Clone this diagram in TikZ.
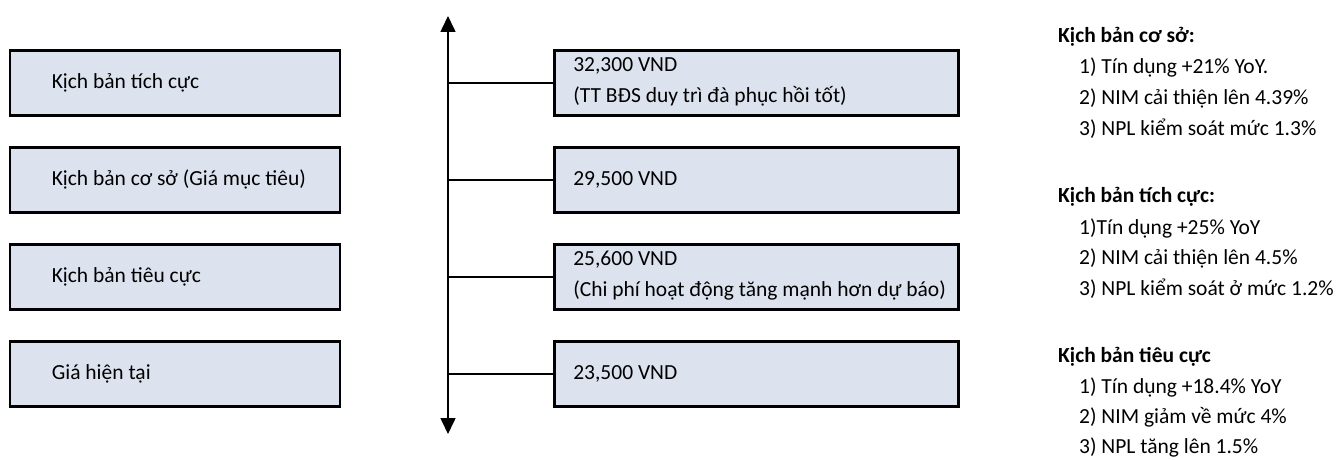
\documentclass[tikz,border=0pt]{standalone}
\usepackage{fontspec}
\setmainfont{Carlito}
\usetikzlibrary{arrows.meta}
\definecolor{boxfill}{RGB}{221,227,238}
\tikzset{
  lbox/.style={draw=black, line width=2.6pt, fill=boxfill, anchor=north west,
    minimum width=330pt, minimum height=65pt, text width=316pt, inner xsep=7pt,
    align=flush left, font=\fontsize{21.5}{31}\selectfont,
    execute at begin node={\leftskip=35pt\relax}},
  rbox/.style={draw=black, line width=2.6pt, fill=boxfill, anchor=north west,
    minimum width=404pt, minimum height=65pt, text width=380pt, inner xsep=12pt,
    align=flush left, font=\fontsize{21.5}{31}\selectfont,
    execute at begin node={\leftskip=7pt\relax}},
  twoline/.style={inner ysep=0pt, text height=19pt, text depth=41pt},
  axisline/.style={line width=1.6pt, {Triangle[width=15pt,length=16pt]}-{Triangle[width=15pt,length=16pt]}},
  branch/.style={line width=2.2pt},
  head/.style={anchor=base west, inner sep=0pt, font=\fontsize{21.5}{31}\selectfont\bfseries},
  itemline/.style={anchor=base west, inner sep=0pt, font=\fontsize{21.5}{31}\selectfont}
}
\begin{document}
\begin{tikzpicture}[x=1pt,y=-1pt]
\useasboundingbox (0,0) rectangle (1338,460);
% left boxes
\node[lbox] (l1) at (8.5,49) {Kịch bản tích cực};
\node[lbox] (l2) at (8.5,146) {Kịch bản cơ sở (Giá mục tiêu)};
\node[lbox] (l3) at (8.5,243) {Kịch bản tiêu cực};
\node[lbox] (l4) at (8.5,340) {Giá hiện tại};
% right boxes
\node[rbox,twoline] (r1) at (553,49) {32,300 VND\\(TT BĐS duy trì đà phục hồi tốt)};
\node[rbox] (r2) at (553,146) {29,500 VND};
\node[rbox,twoline] (r3) at (553,243) {25,600 VND\\(Chi phí hoạt động tăng mạnh hơn dự báo)};
\node[rbox] (r4) at (553,340) {23,500 VND};
% axis
\coordinate (top) at (448,16);
\coordinate (bot) at (448,434);
\draw[axisline] (bot) -- (top);
\foreach \i in {1,...,4}{
  \draw[branch] (r\i.west -| top) -- (r\i.west);
}
% right notes
\node[head] (h1) at (1058,42.5) {Kịch bản cơ sở:};
\node[itemline] (a1) at (1079,74) {1) Tín dụng +21\% YoY.};
\node[itemline] (a2) at (1079,104.5) {2) NIM cải thiện lên 4.39\%};
\node[itemline] (a3) at (1079,135) {3) NPL kiểm soát mức 1.3\%};
\node[head] (h2) at (1058,202.5) {Kịch bản tích cực:};
\node[itemline] (b1) at (1079,234) {1)Tín dụng +25\% YoY};
\node[itemline] (b2) at (1079,264.5) {2) NIM cải thiện lên 4.5\%};
\node[itemline] (b3) at (1079,295) {3) NPL kiểm soát ở mức 1.2\%};
\node[head] (h3) at (1058,362.5) {Kịch bản tiêu cực};
\node[itemline] (c1) at (1079,393.5) {1) Tín dụng +18.4\% YoY};
\node[itemline] (c2) at (1079,423.5) {2) NIM giảm về mức 4\%};
\node[itemline] (c3) at (1079,453.5) {3) NPL tăng lên 1.5\%};
\end{tikzpicture}
\end{document}
